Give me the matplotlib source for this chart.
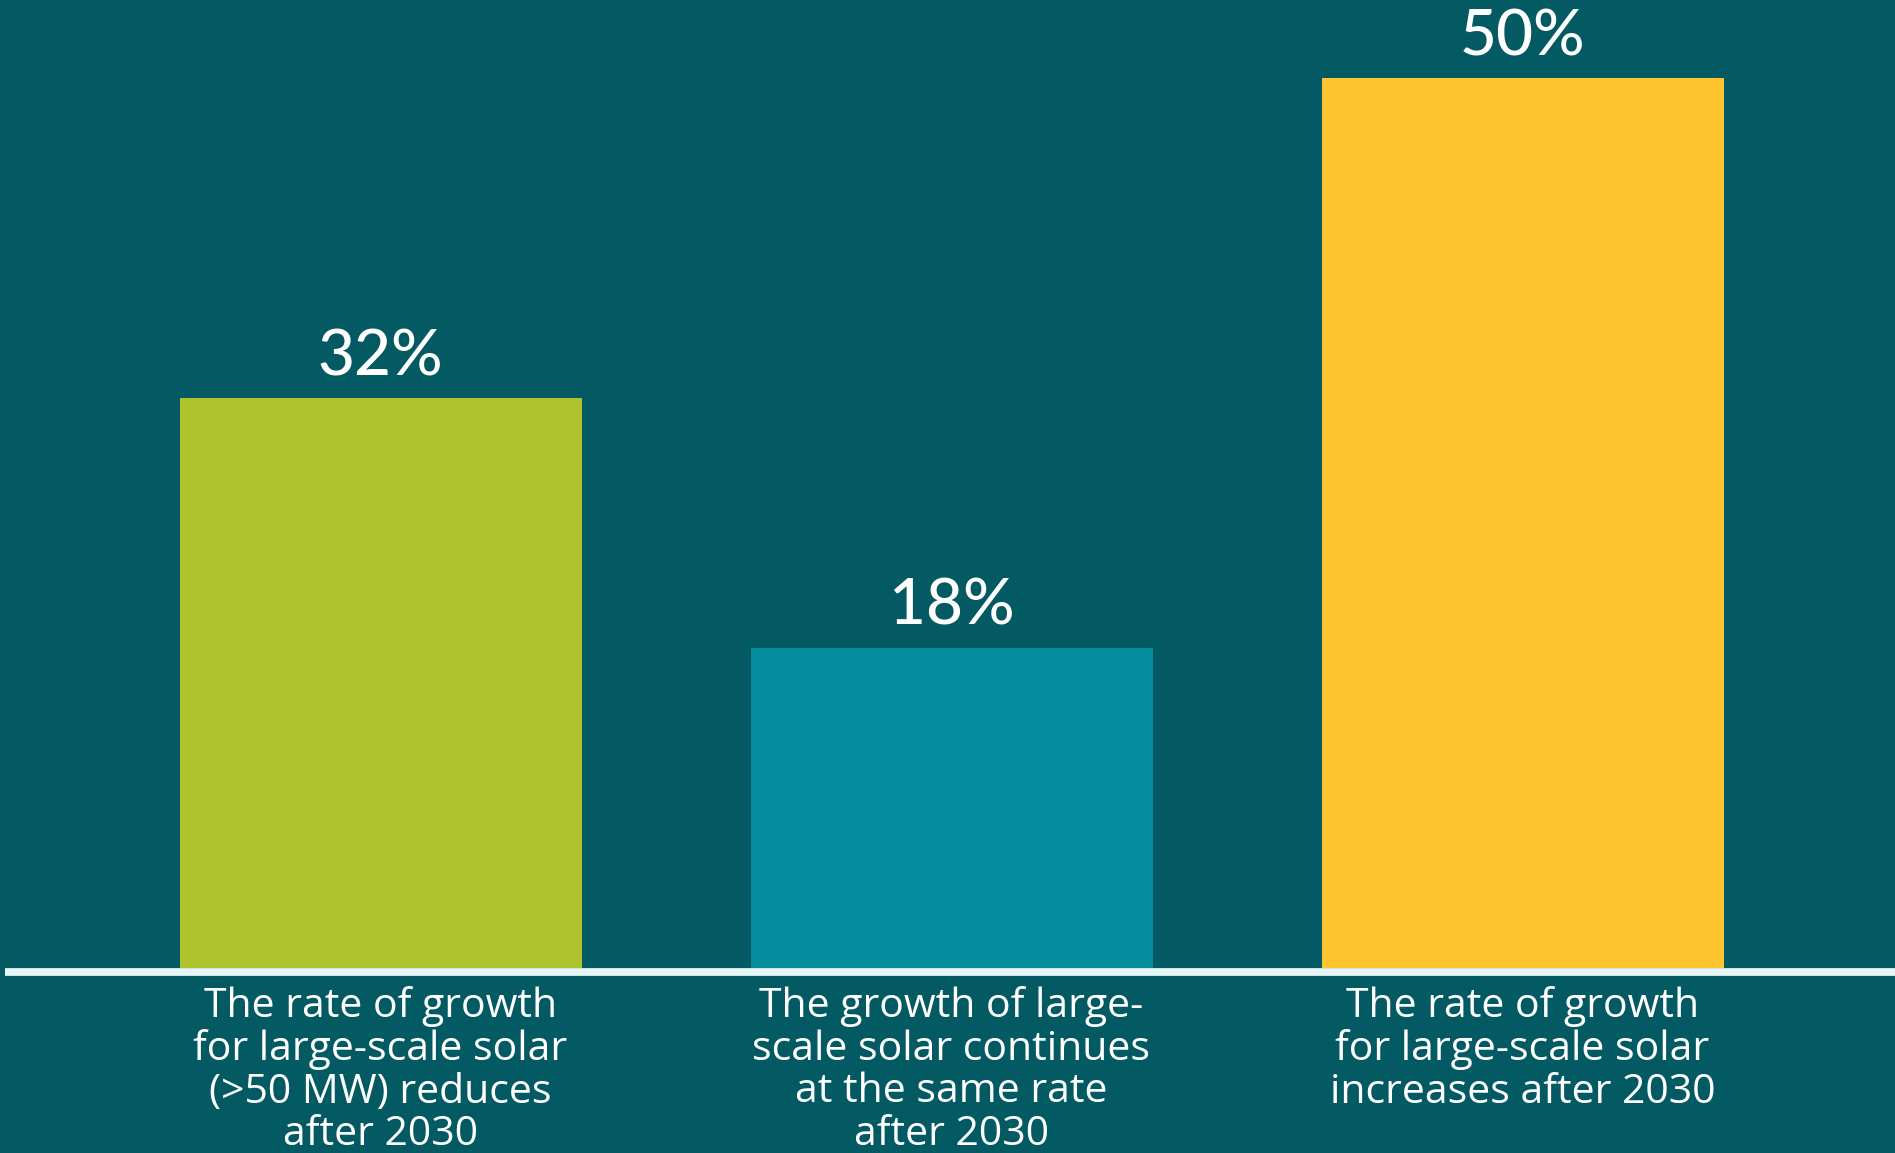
import matplotlib
matplotlib.use("Agg")
import matplotlib.pyplot as plt
from matplotlib.lines import Line2D

# Share of scenarios, per outlook for large-scale solar
categories = [
    "The rate of growth\nfor large-scale solar\n(>50 MW) reduces\nafter 2030",
    "The growth of large-\nscale solar continues\nat the same rate\nafter 2030",
    "The rate of growth\nfor large-scale solar\nincreases after 2030",
]
values = [32, 18, 50]
value_labels = ["32%", "18%", "50%"]
bar_colors = ["#afc42c", "#038c9b", "#fec530"]

BG = "#035a62"
NUM_FONT = ["Lato", "DejaVu Sans"]
CAT_FONT = ["Open Sans", "DejaVu Sans"]

W, H = 1895, 1153
fig = plt.figure(figsize=(W / 100, H / 100), dpi=100, facecolor=BG)

base_px = 968          # baseline, px from top
px_per_unit = 17.8
ax = fig.add_axes([0, 1 - base_px / H, 1, base_px / H])
ax.set_facecolor(BG)

slot = 571.0
x0 = 380.5
ax.set_xlim(-x0 / slot, (W - x0) / slot)
ax.set_ylim(0, base_px / px_per_unit)

xs = list(range(len(values)))
bars = ax.bar(xs, values, width=402 / slot, color=bar_colors, zorder=2)

for b, lab in zip(bars, value_labels):
    ax.annotate(lab, (b.get_x() + b.get_width() / 2, b.get_height()),
                xytext=(0, 16.5), textcoords="offset points",
                ha="center", va="baseline", color="white",
                fontsize=46, fontfamily=NUM_FONT, fontweight="medium")

for x, cat in zip(xs, categories):
    ax.annotate(cat, (x, 0), xytext=(0, -13), textcoords="offset points",
                ha="center", va="top", color="white", fontsize=29.5,
                fontfamily=CAT_FONT, fontweight="medium", linespacing=1.07,
                annotation_clip=False)

ax.axis("off")

# Baseline rule
yline = 1 - 972 / H
fig.add_artist(Line2D([5 / W, 1], [yline, yline], color="#e6f6f6",
                      linewidth=5.6, solid_capstyle="butt"))

fig.savefig("out.png", dpi=100, facecolor=BG)
